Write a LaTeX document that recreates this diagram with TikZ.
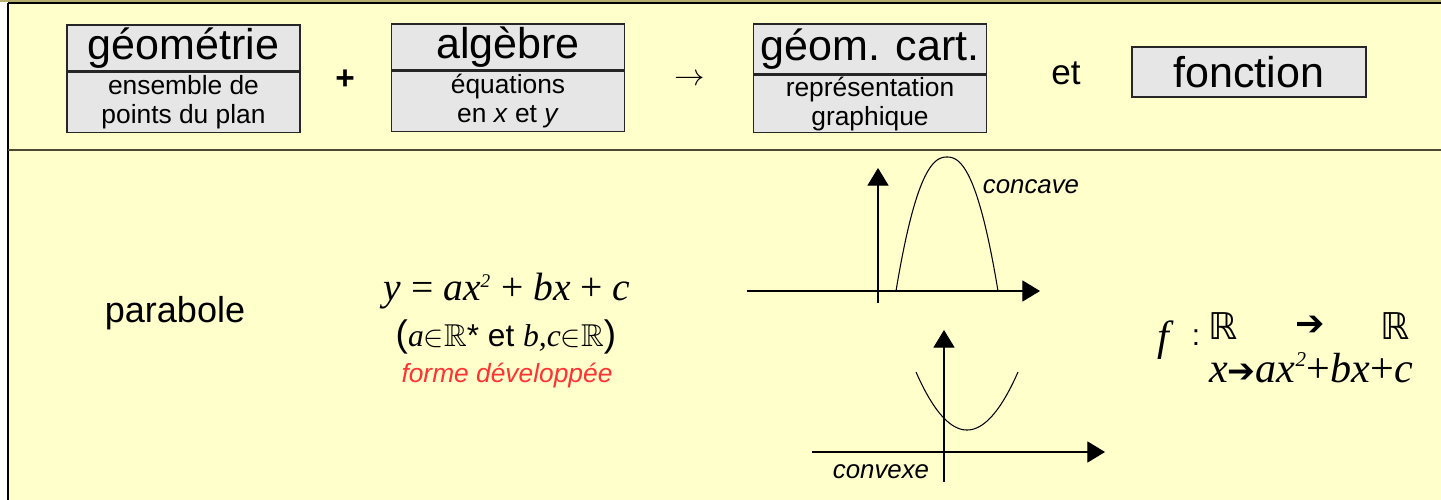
\documentclass[tikz,border=0pt]{standalone}
\usepackage{amssymb}
\usepackage{fontspec}
\setmainfont{Liberation Sans}
\newfontfamily\tms{Liberation Serif}
\newfontfamily\dvs{DejaVu Sans}
\usetikzlibrary{arrows.meta,positioning}
\definecolor{fond}{HTML}{FFFFCC}
\definecolor{boite}{HTML}{E6E6E6}
\definecolor{olive}{HTML}{4D4A33}
\definecolor{bandeau}{HTML}{B5AE6E}
\definecolor{rouge}{HTML}{FF3333}
\tikzset{
  titre/.style={draw=black!85, fill=boite, line width=.7pt, minimum width=4.66cm, inner sep=0pt, font=\fontsize{24.5}{26}\selectfont},
  sous/.style={titre, align=center, font=\fontsize{15}{16.5}\selectfont},
  axe/.style={-{Triangle[length=10pt,width=12pt]}, line width=.6pt},
  courbe/.style={line width=.6pt},
  txt/.style={inner sep=0pt},
}

\begin{document}
\begin{tikzpicture}[x=0.02cm, y=-0.02cm]
  \useasboundingbox (0,0) rectangle (1441,500);
  % fond et cadre
  \fill[bandeau] (0,0) rectangle (1441,2);
  \fill[fond] (8,3) rectangle (1441,500);
  \draw[black, line width=.8pt] (8,3) -- (1441,3);
  \draw[black, line width=.8pt] (8,3) -- (8,500);
  \draw[olive, line width=1.4pt] (8,150) -- (1441,150);

  % ligne du haut
  \node[titre, minimum height=.92cm] (geoT) at (183.5,48) {géométrie};
  \node[sous, minimum height=1.2cm, below=0pt of geoT] (geoS) {ensemble de\\points du plan};
  \node[txt, font=\fontsize{19}{20}\selectfont\bfseries] (plus) at (345,80) {+};
  \node[titre, minimum height=.92cm] (algT) at (508,47) {algèbre};
  \node[sous, minimum height=1.2cm, below=0pt of algT] (algS) {équations\\en \textit{x} et \textit{y}};
  \node[txt, font=\fontsize{19}{20}\selectfont] (fleche) at (690,80) {$\rightarrow$};
  \node[titre, minimum height=1cm] (cartT) at (870,49) {géom. cart.};
  \node[sous, minimum height=1.14cm, below=0pt of cartT] (cartS) {représentation\\graphique};
  \node[txt, font=\fontsize{20}{22}\selectfont] (et) at (1066,73) {et};
  \node[titre, minimum height=1cm, minimum width=4.68cm] (fct) at (1249,72) {fonction};

  % ligne parabole
  \node[txt, font=\fontsize{20.5}{22}\selectfont] (nom) at (175,313) {parabole};
  \node[txt, font=\fontsize{22.5}{24}\selectfont\tms\itshape] (eq) at (507,291)
    {y {\upshape =} ax\textsuperscript{\fontsize{11}{12}\selectfont 2} {\upshape +} bx {\upshape +} c};
  \node[txt, font=\fontsize{18}{20}\selectfont] (cond) at (506,337)
    {{\fontsize{21}{22}\selectfont(}{\tms\itshape a}${\in}\mathbb{R}$* et {\tms\itshape b,c}${\in}\mathbb{R}${\fontsize{21}{22}\selectfont)}};
  \node[txt, text=rouge, font=\fontsize{15}{17}\selectfont\itshape] (forme) at (507,376) {forme développée};

  % concave
  \coordinate (ox1) at (747,291);
  \coordinate (ex1) at (1040,291);
  \coordinate (oy1) at (878,303);
  \coordinate (ey1) at (878,168);
  \draw[axe] (ox1) -- (ex1);
  \draw[axe] (oy1) -- (ey1);
  \draw[courbe] plot[domain=-51:51, samples=61, smooth] ({947+\x},{157+134*pow(abs(\x/51),2.3)});
  \node[txt, font=\fontsize{14.7}{16}\selectfont\itshape] (concave) at (1031,187) {concave};

  % convexe
  \coordinate (ox2) at (812,452);
  \coordinate (ex2) at (1105,452);
  \coordinate (oy2) at (944,482);
  \coordinate (ey2) at (944,330);
  \draw[axe] (ox2) -- (ex2);
  \draw[axe] (oy2) -- (ey2);
  \draw[courbe] plot[domain=-51:51, samples=61, smooth] ({967+\x},{430-58*(\x/51)^2});
  \node[txt, font=\fontsize{14.7}{16}\selectfont\itshape] (convexe) at (881,472) {convexe};

  % fonction
  \node[txt, font=\fontsize{24}{26}\selectfont\tms\itshape] (f) at (1163,340) {f};
  \node[txt, font=\fontsize{17}{18}\selectfont] (dp) at (1196,338) {:};
  \node[txt, font=\fontsize{21}{22}\selectfont\dvs] (R1) at (1223,326) {ℝ};
  \node[txt, font=\fontsize{20}{22}\selectfont\dvs] (fl1) at (1310,326) {➔};
  \node[txt, font=\fontsize{21}{22}\selectfont\dvs] (R2) at (1395,326) {ℝ};
  \node[txt, font=\fontsize{24}{26}\selectfont\tms\itshape] (expr) at (1311,368)
    {x{\upshape\dvs\fontsize{19}{20}\selectfont ➔}ax\textsuperscript{\fontsize{12}{12}\selectfont 2}{\upshape+}bx{\upshape+}c};
\end{tikzpicture}
\end{document}
